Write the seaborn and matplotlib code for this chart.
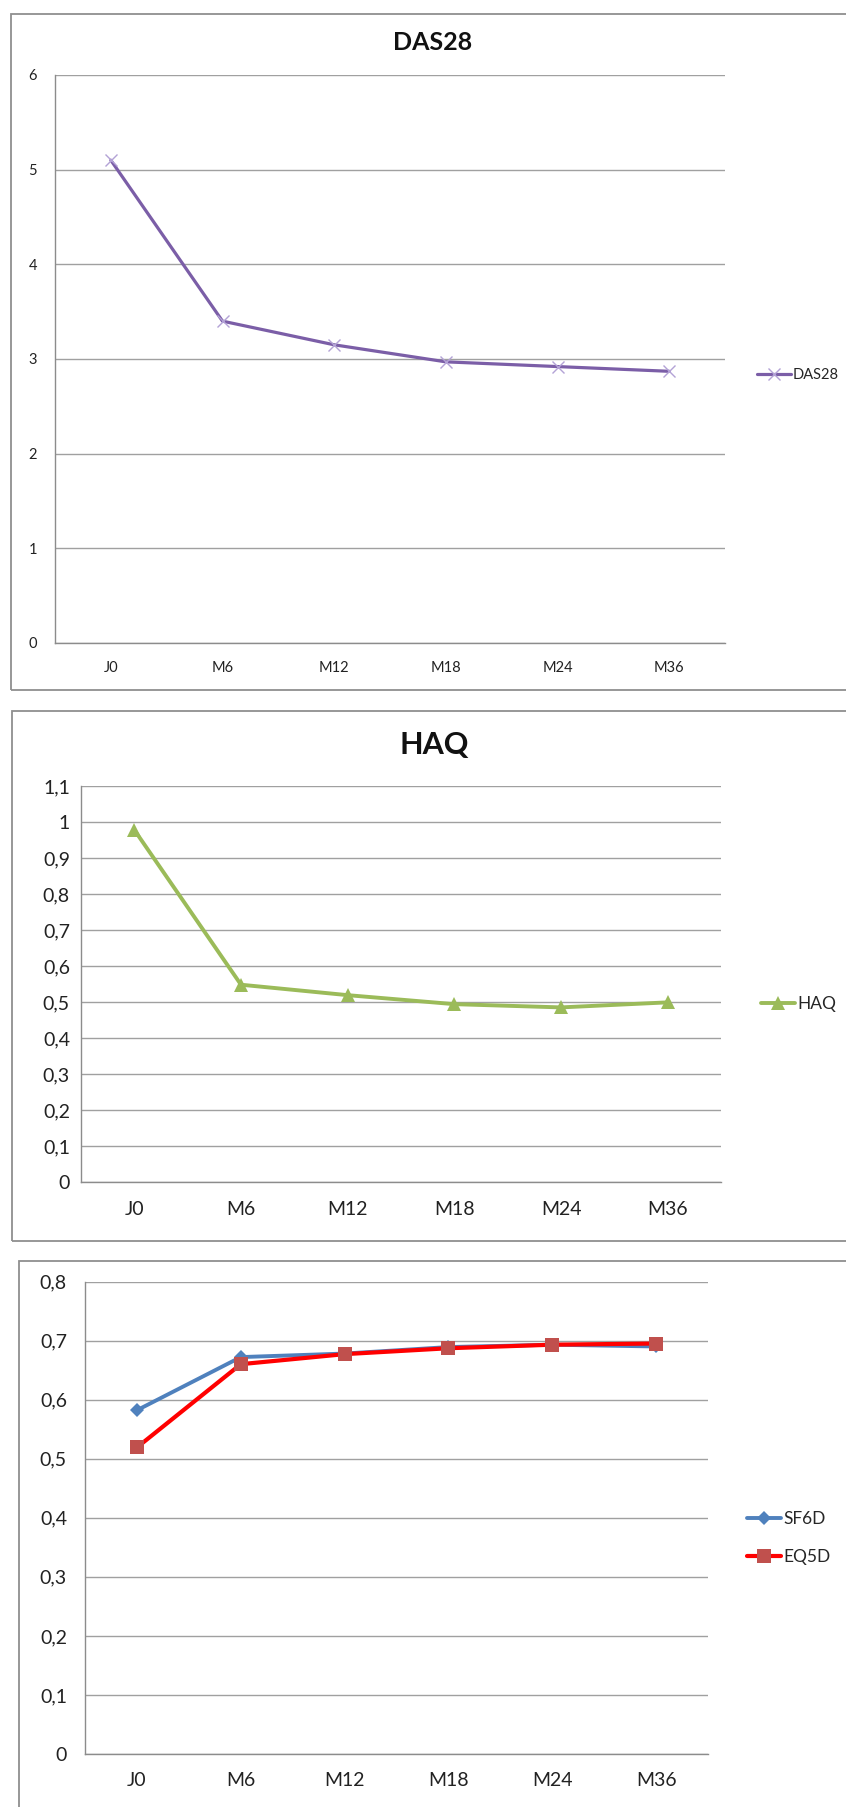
import matplotlib
matplotlib.use("Agg")
import matplotlib.pyplot as plt
from matplotlib.patches import Rectangle
from matplotlib.ticker import FixedLocator, FuncFormatter
import seaborn as sns
import pandas as pd
import numpy as np

# ---------------- data ----------------
categories = ["J0", "M6", "M12", "M18", "M24", "M36"]
das28 = [5.10, 3.40, 3.15, 2.97, 2.92, 2.87]
haq = [0.978, 0.548, 0.519, 0.494, 0.485, 0.499]
sf6d = [0.582, 0.672, 0.678, 0.689, 0.693, 0.690]
eq5d = [0.519, 0.660, 0.677, 0.687, 0.693, 0.695]
das_ticks = [0, 1, 2, 3, 4, 5, 6]
haq_ticks = [0, 0.1, 0.2, 0.3, 0.4, 0.5, 0.6, 0.7, 0.8, 0.9, 1.0, 1.1]
util_ticks = [0, 0.1, 0.2, 0.3, 0.4, 0.5, 0.6, 0.7, 0.8]

sns.set_theme(style="white")
plt.rcParams['font.family'] = ['Lato', 'DejaVu Sans']

W, H = 846, 1807
fig = plt.figure(figsize=(W / 100, H / 100), dpi=100)
fig.patch.set_facecolor("white")

GRID = "#a0a0a0"
AXC = "#8c8c8c"


def px_axes(l, t, r, b):
    return fig.add_axes([l / W, 1 - b / H, (r - l) / W, (b - t) / H])


def border(l, t, r, b):
    fig.add_artist(Rectangle((l / W, 1 - b / H), (r - l) / W, (b - t) / H,
                             transform=fig.transFigure, fill=False,
                             edgecolor="#8f8f8f", linewidth=1.3))


def comma(v, pos=None):
    s = ("%.1f" % v).rstrip("0").rstrip(".")
    return s.replace(".", ",")


def style_axes(ax, yticks, fontsize, xticks_marks=True, yticks_marks=True, xpad=12):
    ax.set_facecolor("white")
    ax.set_xlim(-0.5, 5.5)
    ax.set_ylim(yticks[0], yticks[-1])
    ax.yaxis.set_major_locator(FixedLocator(yticks))
    ax.yaxis.set_major_formatter(FuncFormatter(comma))
    ax.grid(axis="y", color=GRID, linewidth=1.0)
    ax.grid(axis="x", visible=False)
    for s in ["top", "right"]:
        ax.spines[s].set_visible(False)
    for s in ["left", "bottom"]:
        ax.spines[s].set_color(AXC)
        ax.spines[s].set_linewidth(1.0)
    ax.set_xticks(range(len(categories)))
    ax.set_xticklabels(categories)
    ax.set_xticks(np.arange(-0.5, 6.0, 1.0), minor=True)
    ax.tick_params(axis="x", which="major", length=0, pad=xpad, labelsize=fontsize,
                   colors="#222222")
    ax.tick_params(axis="x", which="minor", length=5 if xticks_marks else 0,
                   direction="out", color=AXC, width=1)
    ax.tick_params(axis="y", length=5 if yticks_marks else 0, direction="out",
                   color=AXC, width=1, pad=8, labelsize=fontsize, colors="#222222")
    ax.set_xlabel("")
    ax.set_ylabel("")
    ax.set_axisbelow(True)


# ---------------- panel 1 : DAS28 ----------------
border(11, 14, 860, 690)
ax1 = px_axes(55, 75, 725, 643)
df1 = pd.DataFrame({"cat": categories, "val": das28})
sns.lineplot(data=df1, x="cat", y="val", ax=ax1, sort=False, color="#7b5ea7",
             linewidth=2.3, marker="x", markersize=9, markeredgewidth=1.0,
             markeredgecolor="#b3a2d6", label="DAS28")
style_axes(ax1, das_ticks, 10.5, xpad=13)
fig.text(433 / W, 1 - 43 / H, "DAS28", ha="center", va="center",
         fontsize=18, fontweight="bold", color="#111111")
ax1.legend(loc="center left", bbox_to_anchor=(750 / W, 1 - 375 / H),
           bbox_transform=fig.transFigure, frameon=False, fontsize=10.5,
           handlelength=2.3, handletextpad=0.1, borderpad=0)

# ---------------- panel 2 : HAQ ----------------
border(12, 711, 860, 1241)
ax2 = px_axes(81, 786, 721, 1182)
df2 = pd.DataFrame({"cat": categories, "val": haq})
sns.lineplot(data=df2, x="cat", y="val", ax=ax2, sort=False, color="#9bbb59",
             linewidth=2.8, marker="^", markersize=10, markeredgewidth=0,
             markerfacecolor="#9bbb59", label="HAQ")
style_axes(ax2, haq_ticks, 14, xticks_marks=False, yticks_marks=False, xpad=14)
fig.text(434 / W, 1 - 745 / H, "HAQ", ha="center", va="center",
         fontsize=22, fontweight="bold", color="#111111")
ax2.legend(loc="center left", bbox_to_anchor=(752 / W, 1 - 1004 / H),
           bbox_transform=fig.transFigure, frameon=False, fontsize=12.5,
           handlelength=2.0, handletextpad=0.1, borderpad=0)

# ---------------- panel 3 : SF6D / EQ5D ----------------
border(19, 1261, 860, 1830)
ax3 = px_axes(85, 1281.5, 708, 1754)
df3 = pd.DataFrame({"cat": categories * 2,
                    "val": sf6d + eq5d,
                    "serie": ["SF6D"] * 6 + ["EQ5D"] * 6})
sns.lineplot(data=df3[df3.serie == "SF6D"], x="cat", y="val", ax=ax3, sort=False,
             color="#4f81bd", linewidth=2.8, marker="D", markersize=7,
             markeredgewidth=0, markerfacecolor="#4f81bd", label="SF6D")
sns.lineplot(data=df3[df3.serie == "EQ5D"], x="cat", y="val", ax=ax3, sort=False,
             color="#ff0000", linewidth=3.0, marker="s", markersize=10,
             markeredgewidth=0, markerfacecolor="#c0504d", label="EQ5D")
style_axes(ax3, util_ticks, 14, xpad=13)
ax3.legend(loc="center left", bbox_to_anchor=(738 / W, 1 - 1538 / H),
           bbox_transform=fig.transFigure, frameon=False, fontsize=12.5,
           handlelength=2.0, handletextpad=0.1, borderpad=0,
           labelspacing=1.3)

fig.savefig("out.png", dpi=100, facecolor="white")
